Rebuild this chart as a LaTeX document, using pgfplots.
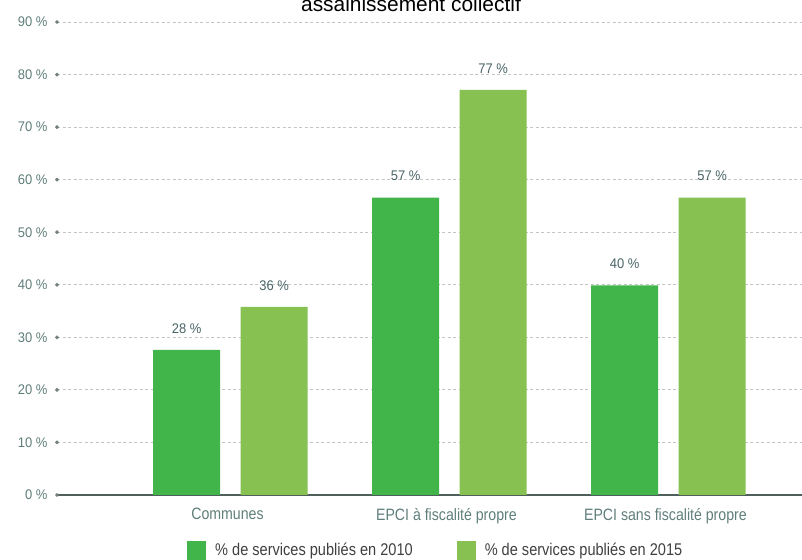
\documentclass[border=0pt]{standalone}
\usepackage{fontspec}
\setmainfont{Liberation Sans}
\newfontfamily\cond[FakeStretch=0.86]{Liberation Sans}
\newfontfamily\condb[FakeStretch=0.93]{Liberation Sans}
\usepackage{pgfplots}
\pgfplotsset{compat=1.18}
\definecolor{cA}{HTML}{41B549}
\definecolor{cB}{HTML}{86C152}
\definecolor{ticklab}{HTML}{5F7E7A}
\definecolor{barlab}{HTML}{4A6466}
\definecolor{gridc}{HTML}{C4C4C4}
\definecolor{axisc}{HTML}{4F5F5C}
\begin{document}
\begin{tikzpicture}
\path[use as bounding box] (0,0) rectangle (802bp,560bp);
\node[anchor=base, font=\fontsize{21}{23}\selectfont, text=black] at (411bp,548bp) {assainissement collectif};
\begin{axis}[
  at={(57bp,65bp)}, anchor=south west,
  scale only axis, width=745bp, height=473bp,
  xmin=-0.792, xmax=2.61, ymin=0, ymax=90,
  axis line style={draw=none},
  ytick={0,10,...,90},
  yticklabel={\pgfmathprintnumber{\tick} \%},
  /pgf/number format/assume math mode=true,
  yticklabel style={font=\condb\fontsize{14}{16}\selectfont, text=ticklab, xshift=-6bp},
  xtick={0,1,2},
  xticklabels={Communes, EPCI à fiscalité propre, EPCI sans fiscalité propre},
  xticklabel style={font=\cond\fontsize{16.5}{18}\selectfont, text=ticklab, yshift=-10bp, xshift=-3bp},
  major tick length=0pt,
  ymajorgrids,
  major grid style={gridc, line width=0.9bp, dash pattern=on 3bp off 2.5bp},
  extra y ticks={0}, extra y tick labels={},
  extra y tick style={ymajorgrids, major grid style={axisc, solid, line width=1.2bp}},
  clip=false,
  ybar, bar width=0.306,
  nodes near coords={\pgfmathprintnumber[fixed,precision=0]{\pgfplotspointmeta} \%},
  nodes near coords style={font=\condb\fontsize{14}{16}\selectfont, text=barlab, yshift=13bp},
  legend columns=2,
  legend style={draw=none, fill=none, at={(axis description cs:0.1705,-0.1163)}, anchor=west,
    font=\cond\fontsize{17}{19}\selectfont, text=black!75,
    /tikz/every even column/.append style={column sep=42bp},
    /tikz/every odd column/.append style={column sep=7bp}},
  legend image code/.code={\fill (0bp,-9.5bp) rectangle (19bp,9.5bp);},
]
\addplot[fill=cA, draw=none, bar shift=-0.2] coordinates {(0,27.6) (1,56.6) (2,39.9)};
\addlegendentry{\% de services publiés en 2010}
\addplot[fill=cB, draw=none, bar shift=0.2] coordinates {(0,35.8) (1,77.1) (2,56.6)};
\addlegendentry{\% de services publiés en 2015}
\addplot[only marks, mark=*, mark size=1.7bp, color=axisc!80, nodes near coords={}, forget plot]
  coordinates {(-0.792,0) (-0.792,10) (-0.792,20) (-0.792,30) (-0.792,40) (-0.792,50) (-0.792,60) (-0.792,70) (-0.792,80) (-0.792,90)};
\end{axis}
\end{tikzpicture}
\end{document}
